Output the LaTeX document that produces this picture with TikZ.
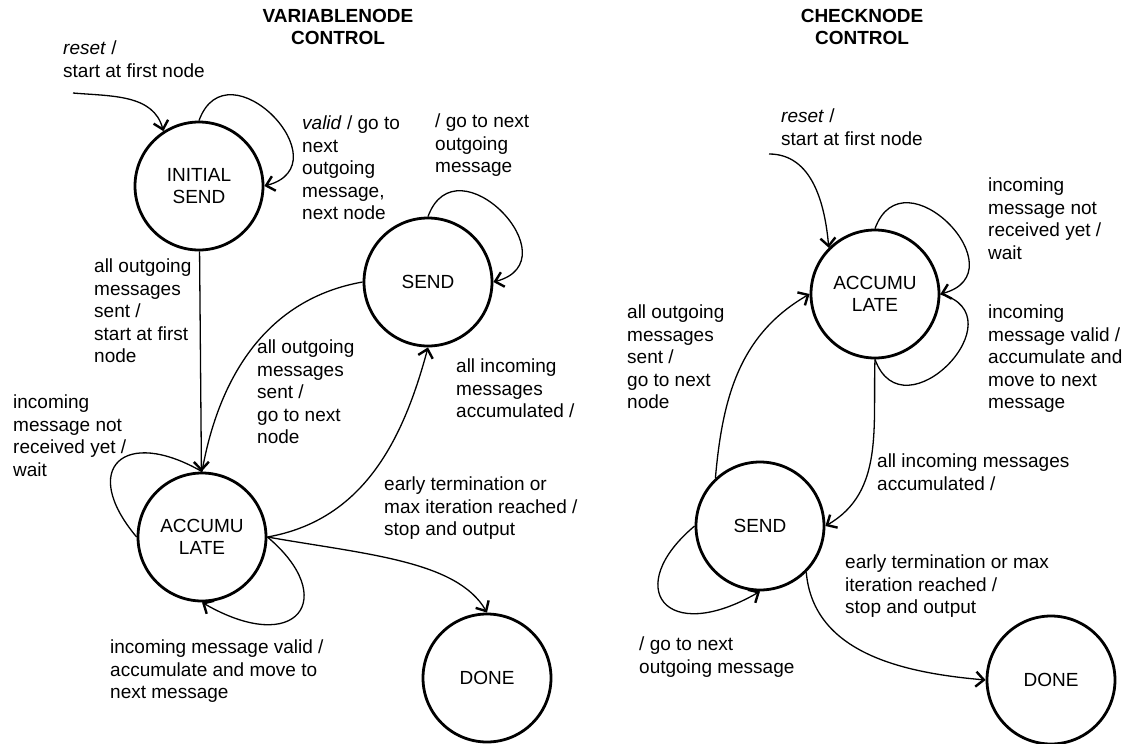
\documentclass[tikz,border=0pt]{standalone}
\usepackage{fontspec}
\setmainfont{Liberation Sans}
\usetikzlibrary{arrows.meta}

\begin{document}
\begin{tikzpicture}[x=1pt, y=-1pt,
  font=\fontsize{19}{22.5}\selectfont,
  state/.style={draw, circle, line width=2.8pt, minimum size=128pt, inner sep=0pt, align=center},
  tr/.style={line width=1.3pt, -{Straight Barb[length=8pt, width=15pt, line width=2.4pt]}},
  trplain/.style={line width=1.3pt},
  lbl/.style={anchor=north west, inner sep=0pt, align=left},
  ttl/.style={anchor=north, inner sep=0pt, align=center, font=\fontsize{19}{22.5}\selectfont\bfseries}]
\useasboundingbox (0,0) rectangle (1127,744);
\node[state] (ini)   at (199,186) {INITIAL\\SEND};
\node[state] (sendv) at (428,282) {SEND};
\node[state] (accv)  at (202,537) {ACCUMU\\LATE};
\node[state] (donev) at (487,678) {DONE};
\node[state] (accc)  at (875,294) {ACCUMU\\LATE};
\node[state] (sendc) at (760,526) {SEND};
\node[state] (donec) at (1051,680) {DONE};
\coordinate (rv) at (73,93);
\coordinate (rc) at (769,154);
\draw[tr] (rv) to[out=-5, in=105] (ini.123);
\draw[tr] (ini.90) to[out=70, in=15, looseness=2.3] (ini.0);
\draw[tr] (ini) -- (accv);
\draw[tr] (sendv.90) to[out=70, in=15, looseness=2.3] (sendv.0);
\draw[trplain] (accv.180) to[out=130, in=150, distance=90pt] (accv.90);
\draw[trplain] (sendv.180) to[out=190, in=80] (accv.90);
\draw[tr] (accv.0) to[out=10, in=255] (sendv.270);
\draw[tr] (accv.0) to[out=-10, in=120, out distance=100pt, in distance=60pt] (donev.90);
\draw[tr] (accv.0) to[out=-40, in=-30, out distance=95pt, in distance=110pt] (accv.270);
\draw[tr] (rc) to[out=0, in=95] (accc.135);
\draw[tr] (accc.90) to[out=70, in=15, looseness=2.3] (accc.0);
\draw[trplain] (accc.270) to[out=-70, in=-15, looseness=2.3] (accc.0);
\draw[tr] (sendc.133) to[out=85, in=210] (accc.180);
\draw[tr] (accc.270) to[out=-92, in=30] (sendc.0);
\draw[tr] (sendc.180) to[out=220, in=210, out distance=95pt, in distance=110pt] (sendc.270);
\draw[tr] (sendc.-45) to[out=-85, in=175] (donec.180);
\node[ttl] (tv) at (338,9) {VARIABLENODE\\CONTROL};
\node[ttl] (tc) at (862,9) {CHECKNODE\\CONTROL};
\node[lbl] (lrv) at (63,41) {\textit{reset} /\\start at first node};
\node[lbl] (lvalid) at (302,116) {\textit{valid} / go to\\next\\outgoing\\message,\\next node};
\node[lbl] (lnextv) at (435,114) {/ go to next\\outgoing\\message};
\node[lbl] (lsentv) at (94,259) {all outgoing\\messages\\sent /\\start at first\\node};
\node[lbl] (lbackv) at (257,340) {all outgoing\\messages\\sent /\\go to next\\node};
\node[lbl] (laccv) at (456,359) {all incoming\\messages\\accumulated /};
\node[lbl] (lwaitv) at (13,395) {incoming\\message not\\received yet /\\wait};
\node[lbl] (lstopv) at (384,477) {early termination or\\max iteration reached /\\stop and output};
\node[lbl] (lmovev) at (110,640) {incoming message valid /\\accumulate and move to\\next message};
\node[lbl] (lrc) at (781,109) {\textit{reset} /\\start at first node};
\node[lbl] (lwaitc) at (988,178) {incoming\\message not\\received yet /\\wait};
\node[lbl] (lmovec) at (988,305) {incoming\\message valid /\\accumulate and\\move to next\\message};
\node[lbl] (lsentc) at (627,305) {all outgoing\\messages\\sent /\\go to next\\node};
\node[lbl] (laccc) at (877,454) {all incoming messages\\accumulated /};
\node[lbl] (lstopc) at (845,555) {early termination or max\\iteration reached /\\stop and output};
\node[lbl] (lnextc) at (639,637) {/ go to next\\outgoing message};
\end{tikzpicture}
\end{document}
